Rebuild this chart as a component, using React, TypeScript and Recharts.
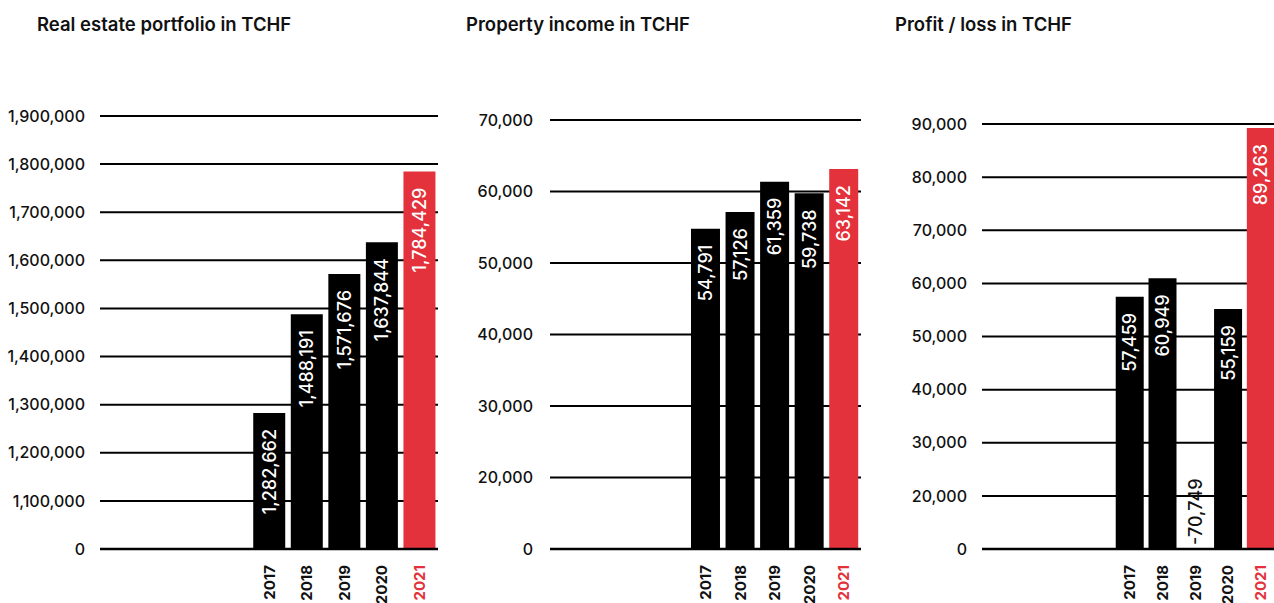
import { BarChart, Bar, XAxis, YAxis, CartesianGrid, Cell, LabelList } from 'recharts';

// slots on the left of every panel are empty, bars sit in the last five
const years = ['', '', '', '', '2017', '2018', '2019', '2020', '2021'];
const highlightYear = '2021';

const portfolio = [null, null, null, null, 1282662, 1488191, 1571676, 1637844, 1784429];
const income = [null, null, null, null, 54791, 57126, 61359, 59738, 63142];
const profit = [null, null, null, null, 57459, 60949, -70749, 55159, 89263];

// the first tick of each axis is the axis break, printed as "0"
const portfolioTicks = [1000000, 1100000, 1200000, 1300000, 1400000, 1500000, 1600000, 1700000, 1800000, 1900000];
const incomeTicks = [10000, 20000, 30000, 40000, 50000, 60000, 70000];
const profitTicks = [10000, 20000, 30000, 40000, 50000, 60000, 70000, 80000, 90000];

const RED = '#e3323b';
const FONT = 'Inter, "Noto Sans", sans-serif';

const YearTick = (props: any) => {
  const { x, y, payload } = props;
  if (!payload.value) return null;
  return (
    <text
      transform={`translate(${x},${y + 16}) rotate(-90)`}
      textAnchor="end"
      dominantBaseline="central"
      fontFamily={FONT}
      fontSize={15}
      fontWeight={700}
      fill={payload.value === highlightYear ? RED : '#111'}
    >
      {payload.value}
    </text>
  );
};

const ValueLabel = (props: any) => {
  const { x, y, width, height, value } = props;
  if (value == null || x == null) return null;
  const cx = x + width / 2;
  const text = value.toLocaleString('en-US');
  if (value < 0) {
    const base = y + height;
    return (
      <text
        transform={`translate(${cx},${base - 4}) rotate(-90)`}
        textAnchor="start"
        dominantBaseline="central"
        fontFamily={FONT}
        fontSize={18}
        fontWeight={500}
        fill="#111"
      >
        {text}
      </text>
    );
  }
  return (
    <text
      transform={`translate(${cx},${y + 16}) rotate(-90)`}
      textAnchor="end"
      dominantBaseline="central"
      fontFamily={FONT}
      fontSize={18}
      fontWeight={500}
      fill="#fff"
    >
      {text}
    </text>
  );
};

function Panel({ values, ticks, left, width, top, tickMargin }: any) {
  const data = years.map((year, i) => ({ year, value: values[i] }));
  return (
    <div style={{ position: 'absolute', left, top: 0 }}>
      <BarChart
        width={width}
        height={603}
        data={data}
        margin={{ top, right: 0, bottom: 0, left: 0 }}
        barCategoryGap="8%"
      >
        <CartesianGrid vertical={false} stroke="#000" strokeWidth={2} />
        <XAxis
          dataKey="year"
          height={54}
          interval={0}
          tickLine={false}
          tickSize={0}
          tickMargin={0}
          axisLine={{ stroke: '#000', strokeWidth: 2.5 }}
          tick={<YearTick />}
        />
        <YAxis
          type="number"
          width={100}
          domain={[ticks[0], ticks[ticks.length - 1]]}
          ticks={ticks}
          allowDataOverflow
          axisLine={false}
          tickLine={false}
          tickSize={0}
          tickMargin={tickMargin}
          tick={{ fill: '#111', fontSize: 16, fontFamily: FONT, fontWeight: 500 }}
          tickFormatter={(v: number) => (v === ticks[0] ? '0' : v.toLocaleString('en-US'))}
        />
        <Bar dataKey="value" isAnimationActive={false}>
          {data.map((d, i) => (
            <Cell key={i} fill={d.year === highlightYear ? RED : '#000'} />
          ))}
          <LabelList dataKey="value" content={<ValueLabel />} />
        </Bar>
      </BarChart>
    </div>
  );
}

const titleStyle = (left: number): any => ({
  position: 'absolute',
  left,
  top: 14,
  fontFamily: FONT,
  fontSize: 18.5,
  fontWeight: 600,
  lineHeight: '20px',
  color: '#111',
  whiteSpace: 'nowrap',
});

export default function App() {
  return (
    <div
      style={{
        position: 'fixed',
        left: 0,
        top: 0,
        width: 1274,
        height: 603,
        overflow: 'hidden',
        background: '#fff',
      }}
    >
      <div style={titleStyle(37)}>Real estate portfolio in TCHF</div>
      <div style={titleStyle(466)}>Property income in TCHF</div>
      <div style={titleStyle(895)}>Profit / loss in TCHF</div>
      <Panel values={portfolio} ticks={portfolioTicks} left={0} width={438} top={116} tickMargin={15} />
      <Panel values={income} ticks={incomeTicks} left={450} width={411} top={120} tickMargin={17} />
      <Panel values={profit} ticks={profitTicks} left={882} width={395} top={124} tickMargin={15} />
    </div>
  );
}
